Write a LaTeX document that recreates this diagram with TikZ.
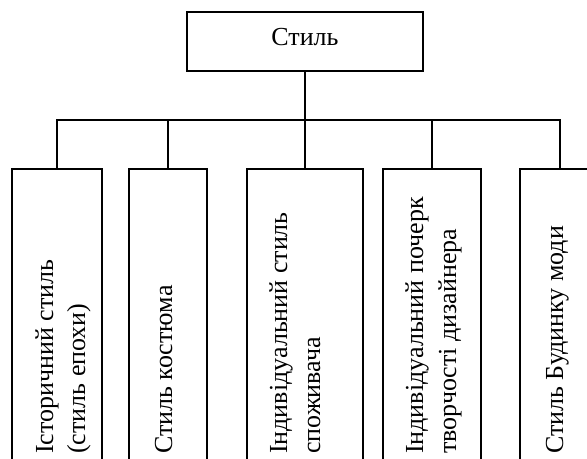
\documentclass[tikz,border=0pt]{standalone}
\usepackage{fontspec}
\setmainfont{Liberation Serif}
\begin{document}
\begin{tikzpicture}[x=1bp,y=-1bp,
  every node/.style={font=\fontsize{26bp}{32bp}\selectfont},
  topbox/.style={draw, line width=1.3bp, minimum width=236bp, minimum height=59bp, inner sep=0pt, text depth=10bp},
  leaf/.style={draw, line width=1.3bp, minimum height=300bp, minimum width=#1, inner sep=0pt},
  vtext/.style={rotate=90, anchor=base west, inner sep=0pt},
  bus/.style={line width=1.1bp},
  stem/.style={line width=2bp}]
\useasboundingbox (0,0) rectangle (587,459);
\clip (0,0) rectangle (587,459);
\node[topbox] (top) at (305,41.5) {Стиль};
% boxes
\node[leaf=90bp]  (b1) at (57,319)  {};
\node[leaf=78bp]  (b2) at (168,319) {};
\node[leaf=116bp] (b3) at (305,319) {};
\node[leaf=98bp]  (b4) at (432,319) {};
\node[leaf=80bp]  (b5) at (560,319) {};
% texts
\node[vtext] (t1a) at (53,454)  {Історичний стиль};
\node[vtext] (t1b) at (85,454)  {(стиль епохи)};
\node[vtext] (t2)  at (172,454) {Стиль костюма};
\node[vtext] (t3a) at (287,454) {Індивідуальний стиль};
\node[vtext] (t3b) at (320,454) {споживача};
\node[vtext] (t4a) at (423,454) {Індивідуальний почерк};
\node[vtext] (t4b) at (456,454) {творчості дизайнера};
\node[vtext] (t5)  at (563,454) {Стиль Будинку моди};
% connectors
\coordinate (bus) at (305,120);
\draw[stem] (top.south) -- (bus);
\draw[bus] (b1.north) |- (bus) -| (b5.north);
\draw[bus] (b2.north) -- (b2.north |- bus);
\draw[bus] (b3.north) -- (bus);
\draw[bus] (b4.north) -- (b4.north |- bus);
\end{tikzpicture}
\end{document}
